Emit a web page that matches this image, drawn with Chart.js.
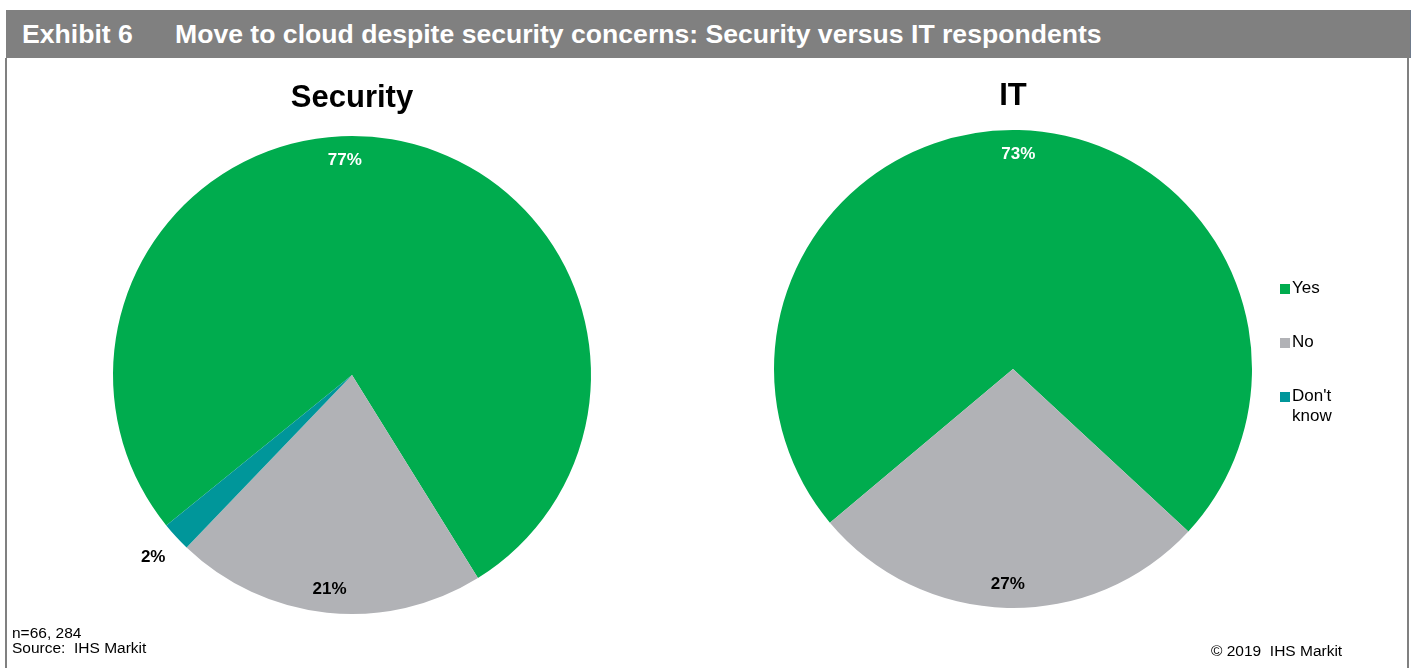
<!DOCTYPE html>
<html>
<head>
<meta charset="utf-8">
<script src="https://cdn.jsdelivr.net/npm/chart.js@4"></script>
<style>
  body { margin: 0; background: #fff; font-family: "Liberation Sans", Arial, sans-serif; }
  #page { position: relative; width: 1414px; height: 668px; overflow: hidden; }
  #header { position: absolute; left: 6px; top: 10px; width: 1404px; height: 48px; background: #808080;
            border-right: 1px solid #6f7b8b; color: #fff; font-weight: bold; font-size: 26.6px; line-height: 48px; }
  #header span { position: absolute; top: 0; }
  .frame { position: absolute; top: 58px; width: 2px; height: 610px; background: #808080; }
  canvas { position: absolute; }
  #legend { position: absolute; left: 0; top: 0; z-index: 2; }
  .item { position: absolute; left: 1280px; font-size: 17px; line-height: 20px; color: #000; }
  .item i { position: absolute; left: 0; top: 6px; width: 10px; height: 10px; }
  .item b { font-weight: normal; display: block; margin-left: 12px; width: 50px; }
  .foot { position: absolute; font-size: 15.5px; line-height: 15px; color: #000; white-space: pre; }
</style>
</head>
<body>
<div id="page">
  <div id="header"><span style="left:16px">Exhibit 6</span><span style="left:169px">Move to cloud despite security concerns: Security versus IT respondents</span></div>
  <div class="frame" style="left:5px"></div>
  <div class="frame" style="left:1407px"></div>
  <canvas id="pie1" width="704" height="600" style="left:-5px;top:60px"></canvas>
  <canvas id="pie2" width="600" height="600" style="left:708px;top:60px"></canvas>
  <div id="legend"></div>
  <div class="foot" style="left:12px;top:625px">n=66, 284</div>
  <div class="foot" style="left:12px;top:640px">Source:  IHS Markit</div>
  <div class="foot" style="left:1211px;top:643px">© 2019  IHS Markit</div>
</div>
<script>
// answers and colours
const categories = ['Yes', 'No', "Don't know"];
const colors = ['#00ac4e', '#b1b2b6', '#00969a'];

// percent of respondents
const securityValues = [77, 21, 2];
const itValues = [73, 27, 0];

// percent labels on the slices
const pieLabels = {
    id: 'pieLabels',
    afterDatasetsDraw(chart, args, opts) {
        const ctx = chart.ctx;
        const meta = chart.getDatasetMeta(0);
        const values = chart.data.datasets[0].data;
        ctx.save();
        ctx.font = 'bold 17px "Liberation Sans", Arial, sans-serif';
        ctx.textAlign = 'center';
        ctx.textBaseline = 'middle';
        meta.data.forEach((arc, i) => {
            if (!values[i]) return;
            const p = arc.getProps(['x', 'y', 'startAngle', 'endAngle', 'outerRadius'], true);
            const mid = (p.startAngle + p.endAngle) / 2 + (opts.shift[i] || 0) * Math.PI / 180;
            const d = p.outerRadius * (values[i] < 5 ? 1.13 : 0.9);
            ctx.fillStyle = i === 0 ? '#ffffff' : '#000000';
            ctx.fillText(values[i] + '%', p.x + Math.cos(mid) * d, p.y + Math.sin(mid) * d);
        });
        ctx.restore();
    }
};

const makePie = (id, title, values, rotation, padding, titlePad, shift) => {
    const ctx = document.getElementById(id).getContext('2d');
    return new Chart(ctx, {
        type: 'pie',
        data: {
            labels: categories,
            datasets: [{
                data: values,
                backgroundColor: colors,
                borderWidth: 0
            }]
        },
        options: {
            responsive: false,
            animation: false,
            rotation: rotation,
            layout: { padding: padding },
            plugins: {
                legend: { display: false },
                tooltip: { enabled: false },
                title: {
                    display: true,
                    text: title,
                    color: '#000',
                    font: { family: '"Liberation Sans", Arial, sans-serif', size: 31, weight: 'bold', lineHeight: 1.2 },
                    padding: titlePad
                },
                pieLabels: { shift: shift }
            }
        },
        plugins: [pieLabels]
    });
}

makePie('pie1', 'Security', securityValues, 231, { left: 118, right: 108, top: 0, bottom: 46 }, { top: 20, bottom: 18.8 }, [-11.5, 0, 0]);
const itChart = makePie('pie2', 'IT', itValues, 230, { left: 66, right: 56, top: 0, bottom: 52 }, { top: 18, bottom: 14.8 }, [0, 0, 0]);

// html legend from the chart data
const legend = document.getElementById('legend');
itChart.data.labels.forEach((label, i) => {
    const item = document.createElement('div');
    item.className = 'item';
    item.style.top = (278 + i * 54) + 'px';
    item.innerHTML = '<i style="background:' + itChart.data.datasets[0].backgroundColor[i] + '"></i><b>' + label + '</b>';
    legend.appendChild(item);
});
</script>
</body>
</html>
